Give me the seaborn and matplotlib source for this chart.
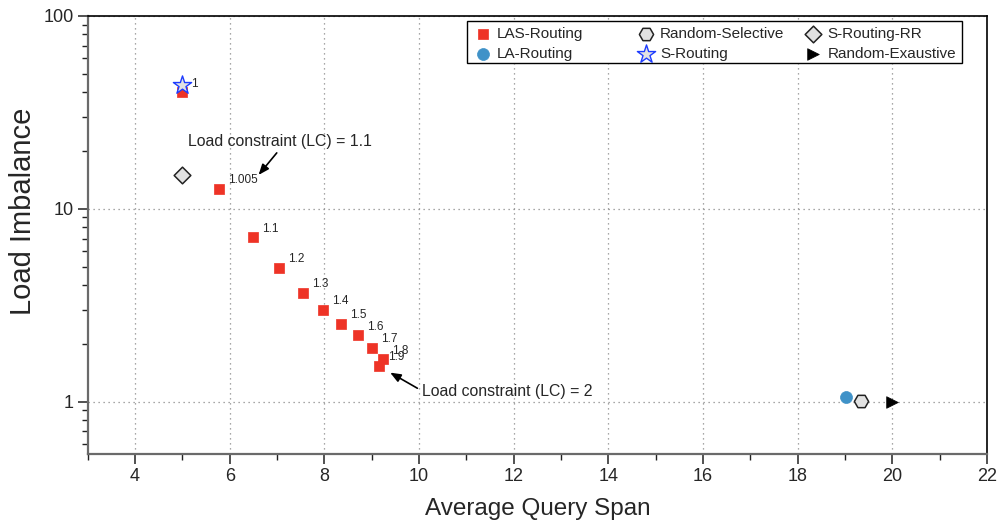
import matplotlib
matplotlib.use("Agg")
import matplotlib.pyplot as plt
import seaborn as sns
from matplotlib.patches import Rectangle
from matplotlib.ticker import FixedLocator, LogLocator, MultipleLocator, NullFormatter

sns.set_style("ticks")
plt.rcParams["font.family"] = ["Liberation Sans", "DejaVu Sans"]

# LAS-Routing sweep over the load constraint (LC)
las_x = [5.0, 5.77, 6.49, 7.05, 7.55, 7.97, 8.35, 8.72, 9.00, 9.23, 9.15]
las_y = [40.1, 12.7, 7.11, 4.95, 3.67, 2.99, 2.53, 2.21, 1.90, 1.66, 1.53]
las_lc = ["1", "1.005", "1.1", "1.2", "1.3", "1.4", "1.5", "1.6", "1.7", "1.8", "1.9"]

# single-point baselines
la_x, la_y = [19.02], [1.057]
rand_sel_x, rand_sel_y = [19.34], [1.01]
s_routing_x, s_routing_y = [5.0], [43.8]
s_rr_x, s_rr_y = [5.0], [14.95]
rand_exh_x, rand_exh_y = [20.0], [1.0]

x_ticks = [4, 6, 8, 10, 12, 14, 16, 18, 20, 22]
y_ticks = [1, 10, 100]
y_tick_labels = ["1", "10", "100"]

fig = plt.figure(figsize=(10, 5.21), dpi=100)
ax = fig.add_axes([0.0877, 0.1286, 0.8993, 0.8413])

common = dict(ax=ax, zorder=3, legend=False)
sns.scatterplot(x=las_x, y=las_y, marker="s", s=48, color="#EE3326",
                edgecolor="#EE3326", linewidth=0.5, label="LAS-Routing", **common)
sns.scatterplot(x=la_x, y=la_y, marker="o", s=74, color="#3F92C8",
                edgecolor="#3F92C8", linewidth=0.5, label="LA-Routing", **common)
sns.scatterplot(x=rand_sel_x, y=rand_sel_y, marker="H", s=105, color="#E2E2E2",
                edgecolor="#222222", linewidth=1.1, label="Random-Selective", **common)
sns.scatterplot(x=s_routing_x, y=s_routing_y, marker="*", s=190, color="#E2E2E2",
                edgecolor="#1E3CFF", linewidth=1.0, label="S-Routing", **common)
sns.scatterplot(x=s_rr_x, y=s_rr_y, marker="D", s=72, color="#E2E2E2",
                edgecolor="#222222", linewidth=1.1, label="S-Routing-RR", **common)
sns.scatterplot(x=rand_exh_x, y=rand_exh_y, marker=">", s=70, color="black",
                edgecolor="black", linewidth=0.5, label="Random-Exaustive", **common)

# LC value next to each LAS-Routing point
for xv, yv, lab in zip(las_x, las_y, las_lc):
    ax.annotate(lab, (xv, yv), xytext=(6.5, 6.2), textcoords="offset points",
                fontsize=8.5, ha="left", va="center", zorder=4)

arrow = dict(arrowstyle="-|>,head_length=0.55,head_width=0.22", color="black",
             lw=1.2, shrinkA=1, shrinkB=0)
ax.annotate("Load constraint (LC) = 1.1", xy=(6.61, 14.95), xytext=(7.07, 22.4),
            ha="center", va="center", fontsize=11.4,
            arrowprops=dict(relpos=(0.5, 0.0), **arrow), zorder=5)
ax.annotate("Load constraint (LC) = 2", xy=(9.39, 1.413), xytext=(10.06, 1.127),
            ha="left", va="center", fontsize=11.4,
            arrowprops=dict(relpos=(0.0, 0.55), **arrow), zorder=5)

ax.set_yscale("log")
ax.set_xlim(3, 22)
ax.set_ylim(0.535, 100)

ax.xaxis.set_major_locator(FixedLocator(x_ticks))
ax.xaxis.set_minor_locator(MultipleLocator(1))
ax.set_yticks(y_ticks)
ax.set_yticklabels(y_tick_labels)
ax.yaxis.set_minor_locator(LogLocator(base=10, subs=[2, 3, 4, 5, 6, 7, 8, 9]))
ax.yaxis.set_minor_formatter(NullFormatter())

ax.tick_params(which="major", direction="out", length=7, width=1.1,
               color="#222222", labelsize=13, pad=3)
ax.tick_params(which="minor", direction="out", length=4, width=1.0, color="#222222")
ax.tick_params(top=False, right=False, which="both")

ax.grid(True, which="major", color="#8a8a8a", linestyle=(0, (1, 3)), linewidth=0.9)

for side in ("left", "bottom"):
    ax.spines[side].set_color("#6a6a6a")
    ax.spines[side].set_linewidth(1.6)
for side in ("top", "right"):
    ax.spines[side].set_color("black")
    ax.spines[side].set_linewidth(1.2)

ax.set_xlabel("Average Query Span", fontsize=17.5)
ax.set_ylabel("Load Imbalance", fontsize=21)
ax.xaxis.set_label_coords(0.5, -0.1)
ax.yaxis.set_label_coords(-0.056, 0.553)

# Legend: a framed box holding three evenly spaced two-row columns
ax.add_patch(Rectangle((0.4218, 0.8921), 0.5504, 0.0958, transform=ax.transAxes,
                       facecolor="white", edgecolor="black", linewidth=1.0,
                       zorder=6, clip_on=False))
handles, labels = ax.get_legend_handles_labels()
col_left = [0.4307, 0.6119, 0.7984]
for i, left in enumerate(col_left):
    leg = ax.legend(handles[2 * i:2 * i + 2], labels[2 * i:2 * i + 2],
                    loc="upper left", bbox_to_anchor=(left, 0.9745),
                    fontsize=11, frameon=False, borderpad=0, borderaxespad=0,
                    handlelength=1.0, handletextpad=0.45, labelspacing=0.41)
    leg.set_zorder(7)
    if i < len(col_left) - 1:
        ax.add_artist(leg)

fig.savefig("out.png", dpi=100)
